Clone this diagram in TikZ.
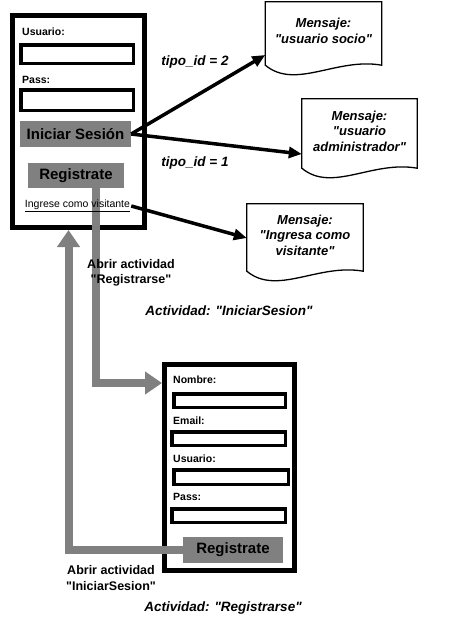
\documentclass[tikz,border=0pt]{standalone}
\usepackage{fontspec}
\setmainfont{Liberation Sans}
\usetikzlibrary{arrows.meta}
\newcommand{\hoja}[1]{%
  \draw[line width=1.3pt] (#1.north west) -- (#1.north east) -- ([yshift=-5pt]#1.south east)
    .. controls +(-45,-8) and +(30,25) .. ([yshift=-5pt]#1.south west) -- cycle;}
\newcommand{\q}{\textquotedbl}
\begin{document}
\begin{tikzpicture}[x=1pt,y=-1pt,
  marco/.style={draw,line width=5pt},
  campo/.style={draw,line width=3.5pt,minimum width=112.5pt,minimum height=18.5pt},
  boton/.style={fill=gray,inner sep=0pt,font=\fontsize{15}{18}\selectfont\bfseries},
  etiq/.style={anchor=west,inner sep=0pt,font=\fontsize{10.5}{12}\selectfont\bfseries},
  mensaje/.style={align=center,minimum width=116pt,inner sep=0pt,font=\fontsize{13}{15.5}\selectfont\bfseries\itshape},
  flecha/.style={line width=3.5pt,-{Triangle[length=13pt,width=11pt]}},
  paso/.style={line width=8pt,draw=gray,-{Triangle[length=17pt,width=22pt]}},
  nota/.style={align=center,inner sep=0pt,font=\fontsize{12.5}{15.5}\selectfont\bfseries},
  titulo/.style={inner sep=0pt,font=\fontsize{13.5}{16}\selectfont\bfseries\itshape}]
\useasboundingbox (0,0) rectangle (460,640);
\node[marco,minimum width=132pt,minimum height=212pt] (login) at (78.5,121.5) {};
\node[etiq] (lusuario) at (22,32) {Usuario:};
\node[campo] (cusuario) at (77,54) {};
\node[etiq] (lpass) at (22,80) {Pass:};
\node[campo,minimum height=20.5pt] (cpass) at (77,100) {};
\node[boton,minimum width=111pt,minimum height=26pt] (iniciar) at (75.5,134) {Iniciar Sesión};
\node[boton,minimum width=96pt,minimum height=25pt] (registro) at (76,175.5) {Registrate};
\node[mensaje,minimum height=58pt] (socio) at (323.5,31) {Mensaje:\\\q usuario socio\q};
\node[mensaje,minimum width=115pt,minimum height=64pt] (admin) at (359.5,131) {Mensaje:\\\q usuario\\administrador\q};
\node[mensaje,minimum height=62pt] (invitado) at (305,235) {Mensaje:\\\q Ingresa como\\visitante\q};
\hoja{socio}
\hoja{admin}
\hoja{invitado}
\draw[flecha] (iniciar.east) -- ([yshift=-24pt]socio.west);
\draw[flecha] (iniciar.east) -- ([yshift=-23pt]admin.west);
\node[titulo] (tipo2) at (195,62) {tipo\_id = 2};
\node[titulo] (tipo1) at (195,163) {tipo\_id = 1};
\node[marco,minimum width=130pt,minimum height=206pt] (alta) at (229.5,467.5) {};
\node[etiq] (lnombre) at (173,380) {Nombre:};
\node[campo,minimum width=111.5pt,minimum height=13.5pt] (cnombre) at (229.5,400.5) {};
\node[etiq] (lemail) at (173,421) {Email:};
\node[campo,minimum width=113.5pt,minimum height=13.5pt] (cemail) at (228.5,438.5) {};
\node[etiq] (lusuario2) at (173,459) {Usuario:};
\node[campo,minimum width=114.5pt,minimum height=14.5pt] (cusuario2) at (231,477) {};
\node[etiq] (lpass2) at (173,497) {Pass:};
\node[campo,minimum width=113.5pt,minimum height=13.5pt] (cpass2) at (228.5,515.5) {};
\node[boton,minimum width=100pt,minimum height=26pt] (registro2) at (233,550) {Registrate};
\draw[paso] ([xshift=20pt]registro.south) |- ([yshift=84.5pt]alta.west);
\draw[paso] (registro2.west) -| ([xshift=-10pt]login.south);
\node[inner sep=1pt,font=\fontsize{10.5}{12}\selectfont] (visitante) at (77.5,206) {\underline{Ingrese como visitante}};
\draw[flecha] (visitante.east) -- ([yshift=-3pt]invitado.west);
\node[nota] (abrir1) at (131,273) {Abrir actividad\\\q Registrarse\q};
\node[nota] (abrir2) at (111,578) {Abrir actividad\\\q IniciarSesion\q};
\node[titulo] (act1) at (229,311) {Actividad: \q IniciarSesion\q};
\node[titulo] (act2) at (223,608) {Actividad: \q Registrarse\q};
\end{tikzpicture}
\end{document}
